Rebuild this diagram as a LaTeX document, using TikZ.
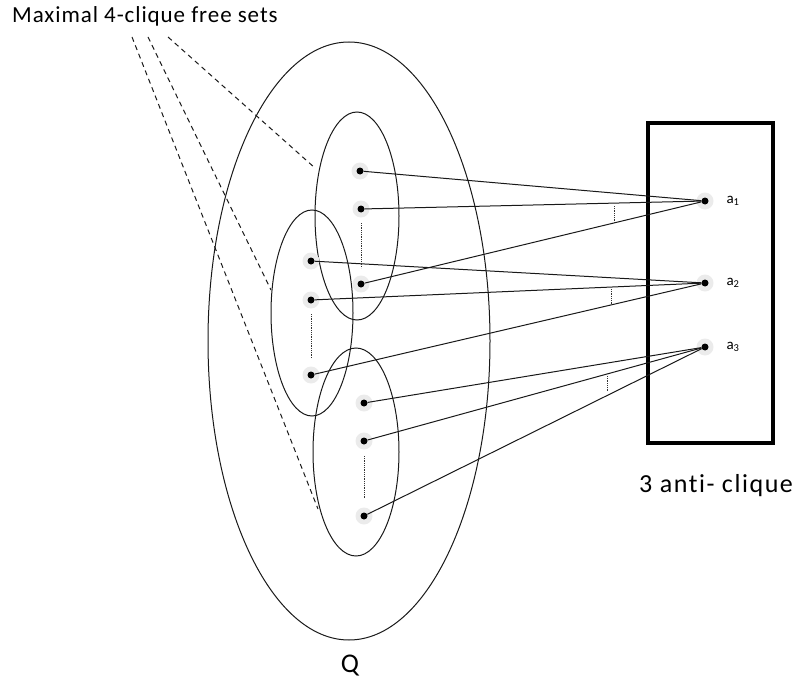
\documentclass[tikz,border=0pt]{standalone}
\usepackage{fontspec}
\setmainfont{Carlito}[Ligatures=NoCommon]
\newfontfamily\spacedfont[LetterSpace=4,Ligatures=NoCommon]{Carlito}
\newfontfamily\widefont[LetterSpace=6,Ligatures=NoCommon]{Carlito}
\begin{document}
\begin{tikzpicture}[x=1pt,y=-1pt,
  dot/.style={circle,fill=black,inner sep=0pt,minimum size=7pt},
  halo/.style={fill=black!8,draw=none},
  oval/.style={draw=black!90,line width=1pt},
  link/.style={draw=black!90,line width=1pt},
  guide/.style={draw=black!90,dashed,line width=1pt,dash pattern=on 5pt off 4pt},
  tick/.style={draw=black!80,densely dotted,line width=0.8pt},
  alabel/.style={anchor=west,font=\fontsize{15}{17}\selectfont}]
\useasboundingbox (0,0) rectangle (796,685);
% ellipses
\draw[oval] (349,341) ellipse [x radius=141,y radius=299];
\draw[oval] (357,216) ellipse [x radius=42,y radius=104];
\draw[oval] (312,313) ellipse [x radius=41,y radius=103];
\draw[oval] (356,452) ellipse [x radius=43,y radius=104];
% halos
\foreach \p in {(360,171),(361,209),(361,284),(311,261),(311,300),(311,375),(364,403),(364,441),(364,516),(705,201),(705,283),(705,347)}
  \fill[halo] \p circle (8.5);
% dots
\node[dot] (t1) at (360,171) {};
\node[dot] (t2) at (361,209) {};
\node[dot] (t3) at (361,284) {};
\node[dot] (m1) at (311,261) {};
\node[dot] (m2) at (311,300) {};
\node[dot] (m3) at (311,375) {};
\node[dot] (b1) at (364,403) {};
\node[dot] (b2) at (364,441) {};
\node[dot] (b3) at (364,516) {};
\node[dot] (a1) at (705,201) {};
\node[dot] (a2) at (705,283) {};
\node[dot] (a3) at (705,347) {};
\node[alabel] (la1) at (723,201) {a\textsubscript{1}};
\node[alabel] (la2) at (723,283) {a\textsubscript{2}};
\node[alabel] (la3) at (723,347) {a\textsubscript{3}};
% rectangle
\draw[line width=3.2pt] (648,123) rectangle (773,443);
% links
\foreach \s in {t1,t2,t3} \draw[link] (a1) -- (\s);
\foreach \s in {m1,m2,m3} \draw[link] (a2) -- (\s);
\foreach \s in {b1,b2,b3} \draw[link] (a3) -- (\s);
% vertical dotted in sets
\draw[tick] (361,223) -- (361,268);
\draw[tick] (311,314) -- (311,358);
\draw[tick] (364,456) -- (364,499);
% small dotted marks between links
\draw[tick] (614,206) -- (614,223);
\draw[tick] (611,289) -- (611,304);
\draw[tick] (607,376) -- (607,392);
% title and dashed guides
\node[anchor=base west,inner sep=0pt,font=\spacedfont\fontsize{23}{26}\selectfont] (title) at (12,23) {Maximal 4-clique free sets};
\coordinate (g1) at (132,37);
\coordinate (g2) at (148,37);
\coordinate (g3) at (168,37);
\coordinate (e1) at (318,509);
\coordinate (e2) at (271,290);
\coordinate (e3) at (315,168);
\draw[guide] (g1) -- (e1);
\draw[guide] (g2) -- (e2);
\draw[guide] (g3) -- (e3);
\node[anchor=base west,inner sep=0pt,font=\widefont\fontsize{26}{28}\selectfont] (lab) at (639,492) {3 anti- clique};
\node[anchor=base,inner sep=0pt,font=\fontsize{27}{29}\selectfont] (q) at (350,672) {Q};
\end{tikzpicture}
\end{document}
